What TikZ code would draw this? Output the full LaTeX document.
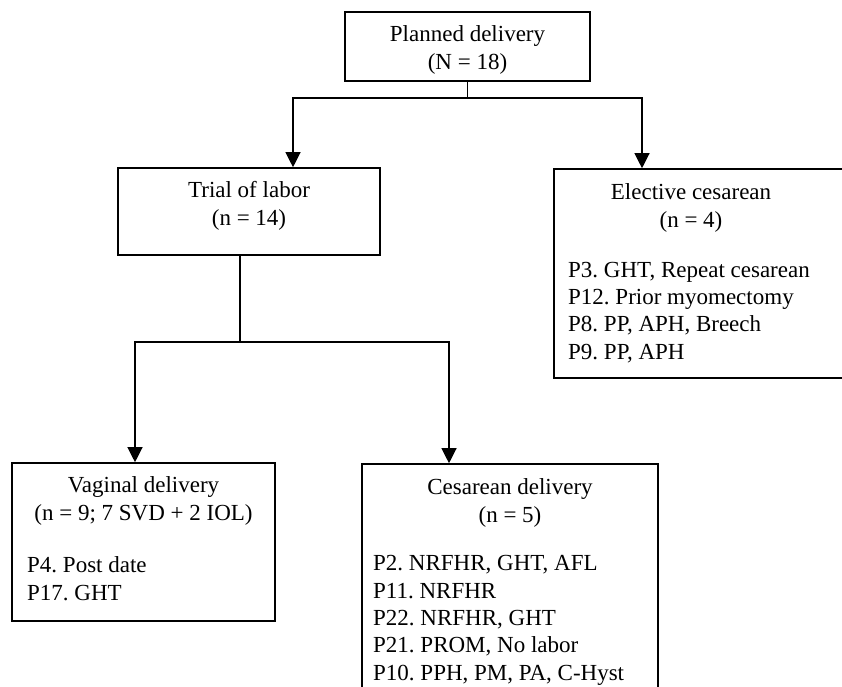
\documentclass[tikz,border=0pt]{standalone}
\usepackage{fontspec}
\setmainfont{Liberation Serif}
\frenchspacing
\usepackage{tikz}
\usetikzlibrary{arrows.meta}
\tikzstyle{box} = [rectangle, draw, line width=1.6pt, inner sep=0pt]
\tikzstyle{txt} = [inner sep=0pt, align=center, anchor=base, font=\fontsize{23}{27.3}\selectfont]
\tikzstyle{lst} = [inner sep=0pt, align=left, anchor=base west, font=\fontsize{23}{27.3}\selectfont]
\tikzstyle{line} = [line width=1.2pt]

\begin{document}
\begin{tikzpicture}[x=1pt, y=-1pt, >={Triangle[width=15pt,length=15pt]}]
	\useasboundingbox (0,0) rectangle (842,686);
	\clip (0,0) rectangle (842,686);

	% Place nodes (text nodes sit on the baseline of their last line)
	\node [box, minimum width=245, minimum height=69] at (467.5,46.5) (plan) {};
	\node [txt] at (467.5,69) (planT) {Planned delivery\\(N = 18)};

	\node [box, minimum width=262, minimum height=87] at (249,211.5) (trial) {};
	\node [txt] at (249,225) (trialT) {Trial of labor\\(n = 14)};

	\node [box, minimum width=316, minimum height=209] at (712,273.5) (elect) {};
	\node [txt] at (691,227) (electT) {Elective cesarean\\(n = 4)};
	\node [lst] at (568,359) (electL) {P3. GHT, Repeat cesarean\\P12. Prior myomectomy\\P8. PP, APH, Breech\\P9. PP, APH};

	\node [box, minimum width=263, minimum height=158] at (143.5,542) (vag) {};
	\node [txt] at (143.5,520) (vagT) {Vaginal delivery\\(n = 9; 7 SVD + 2 IOL)};
	\node [lst] at (27,600) (vagL) {P4. Post date\\P17. GHT};

	\node [box, minimum width=296, minimum height=256] at (510,592) (ces) {};
	\node [txt] at (510,522) (cesT) {Cesarean delivery\\(n = 5)};
	\node [lst] at (373,680) (cesL) {P2. NRFHR, GHT, AFL\\P11. NRFHR\\P22. NRFHR, GHT\\P21. PROM, No labor\\P10. PPH, PM, PA, C-Hyst};

	% Connectors
	\coordinate (split1) at (467.5,98);
	\coordinate (split2) at (240,342);

	\draw[line] (plan) -- (split1);
	\draw[->, line] (split1) -| ([xshift=44]trial.north);
	\draw[->, line] (split1) -| ([xshift=-70]elect.north);

	\draw[line] ([xshift=-9]trial.south) -- (split2);
	\draw[->, line] (split2) -| ([xshift=-8.5]vag.north);
	\draw[->, line] (split2) -| ([xshift=-61]ces.north);
\end{tikzpicture}
\end{document}
